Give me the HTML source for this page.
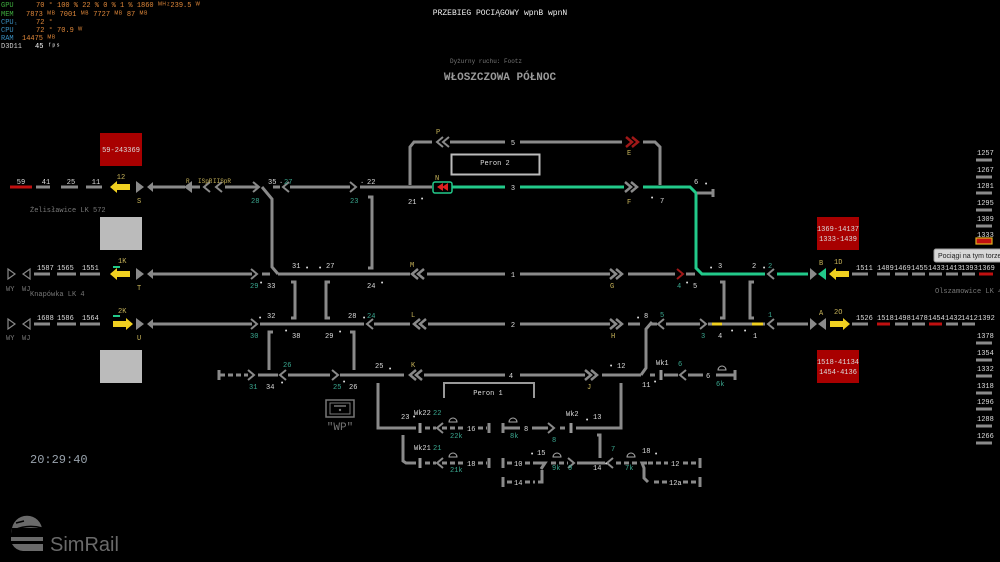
<!DOCTYPE html>
<html><head><meta charset="utf-8"><style>
html,body{margin:0;padding:0;background:#000;width:1000px;height:562px;overflow:hidden}
svg{display:block}
text{font-family:"Liberation Mono",monospace;font-size:7px;fill:#ddd}
.g{fill:#c8b45a}.t{fill:#3aa890}.w{fill:#ddd}.d{fill:#777}
.l{stroke:#8a8a8a;stroke-width:3;fill:none}
.gr{stroke:#22c98a;stroke-width:3;fill:none}
.ds{stroke:#8a8a8a;stroke-width:3;fill:none;stroke-dasharray:5 3}
.ch{stroke:#8a8a8a;stroke-width:2;fill:none}
.tri{fill:#8a8a8a}
</style></head><body>
<svg width="1000" height="562" viewBox="0 0 1000 562" xmlns="http://www.w3.org/2000/svg">
<!-- HUD -->
<g font-size="8">
<text x="1" y="7" style="fill:#3fae3f">GPU</text><text x="36" y="7" style="fill:#e0883a">70 °   100 %   22 %    0 %     1 %  1860 ᴹᴴᶻ239.5 ᵂ</text>
<text x="1" y="16" style="fill:#3fae3f">MEM</text><text x="26" y="16" style="fill:#e0883a">7873 ᴹᴮ  7001 ᴹᴮ 7727 ᴹᴮ   87 ᴹᴮ</text>
<text x="1" y="24" style="fill:#3a8fc0">CPU₁</text><text x="36" y="24" style="fill:#e0883a">72 °</text>
<text x="1" y="32" style="fill:#3a8fc0">CPU</text><text x="36" y="32" style="fill:#e0883a">72 °  70.9 ᵂ</text>
<text x="1" y="40" style="fill:#3a8fc0">RAM</text><text x="22" y="40" style="fill:#e0883a">14475 ᴹᴮ</text>
<text x="1" y="48" style="fill:#ccc">D3D11</text><text x="35" y="48" style="fill:#fff">45 ᶠᵖˢ</text>
</g>
<text x="500" y="15" text-anchor="middle" style="font-size:8px;fill:#eee">PRZEBIEG POCIĄGOWY wpnB wpnN</text>
<text x="486" y="63" text-anchor="middle" style="font-size:6px;fill:#777">Dyżurny ruchu: Footz</text>
<text x="500" y="80" text-anchor="middle" style="font-size:11px;fill:#999;font-weight:bold">WŁOSZCZOWA PÓŁNOC</text>

<!-- boxes -->
<rect x="100" y="133" width="42" height="33" fill="#a80000"/><text x="121" y="152" text-anchor="middle" class="w">59-243369</text>
<rect x="100" y="217" width="42" height="33" fill="#bbb"/>
<rect x="100" y="350" width="42" height="33" fill="#bbb"/>
<rect x="817" y="217" width="42" height="33" fill="#a80000"/><text x="838" y="231" text-anchor="middle" class="w">1369-14137</text><text x="838" y="241" text-anchor="middle" class="w">1333-1439</text>
<rect x="817" y="350" width="42" height="33" fill="#a80000"/><text x="838" y="364" text-anchor="middle" class="w">1518-41134</text><text x="838" y="374" text-anchor="middle" class="w">1454-4136</text>

<!-- Peron boxes -->
<rect x="451.5" y="154.5" width="88" height="20" fill="none" stroke="#bbb" stroke-width="2"/><text x="495" y="165" text-anchor="middle">Peron 2</text>
<path d="M444,398 V383 H534 V398" fill="none" stroke="#999" stroke-width="2"/><text x="488" y="395" text-anchor="middle">Peron 1</text>

<!-- ROW top y=187 -->
<path d="M10,187H32" stroke="#c01010" stroke-width="3"/>
<path class="l" d="M36,187H50M61,187H78M86,187H102"/>
<text x="21" y="184" text-anchor="middle">59</text><text x="46" y="184" text-anchor="middle">41</text><text x="71" y="184" text-anchor="middle">25</text><text x="96" y="184" text-anchor="middle">11</text>
<path d="M110,187l7,-6v3h13v6h-13v3z" fill="#f0d020"/><text x="121" y="179" class="g" text-anchor="middle">12</text>
<path class="tri" d="M136,181l8,6l-8,6z M153,182l-6,5l6,5z"/><text x="137" y="203" class="g">S</text>
<path class="l" d="M153,187H185M192,187H200M225,187H258"/>
<path class="tri" d="M192,181l-8,6l8,6z"/><text x="186" y="183" class="g" style="font-size:6px">R</text>
<path class="ch" d="M210,182l-6,5l6,5M222,182l-6,5l6,5M253,182l6,5l-6,5"/>
<text x="198" y="183" class="g" style="font-size:6px">ISpR</text><text x="213" y="183" class="g" style="font-size:6px">IISpR</text>
<path class="l" d="M262,187L272,199V267L278,274"/>
<path class="l" d="M273,187H280M290,187H350M360,187H432"/>
<path class="ch" d="M289,182l-6,5l6,5M350,182l6,5l-6,5"/>
<text x="268" y="184">35</text><text x="279" y="183">.</text><text x="284" y="184" class="t">27</text><text x="251" y="203" class="t">28</text>
<text x="367" y="184">22</text><text x="360" y="183">.</text><text x="350" y="203" class="t">23</text>
<path class="l" d="M368,197H372V268H368"/>
<text x="408" y="204">21</text><text x="420" y="201">•</text>
<rect x="433" y="182" width="19" height="11" rx="2" fill="none" stroke="#22c98a" stroke-width="1.5"/>
<path d="M437,187l6,-4v8z M442,187l6,-4v8z" fill="#e02020"/><text x="435" y="180" class="g">N</text>
<path class="gr" d="M452,187H505M520,187H624"/><text x="513" y="190" text-anchor="middle">3</text>
<path class="ch" style="stroke-width:2.5" d="M625,182l6,5l-6,5M631,182l6,5l-6,5"/><text x="627" y="204" class="g">F</text><text x="650" y="200">•</text><text x="660" y="203">7</text>
<path class="gr" d="M643,187H690L696,193V268L702,274H765"/>
<path class="l" d="M697,193H713M713,189V197"/><text x="694" y="184">6</text><text x="704" y="186">•</text>

<!-- row P y=142 -->
<path class="l" d="M410,185V147L414,142H432M450,142H505M520,142H622M643,142H655L660,147V185"/>
<path class="ch" d="M443,137l-6,5l6,5M449,137l-6,5l6,5"/><text x="436" y="134" class="g">P</text><text x="513" y="145" text-anchor="middle">5</text>
<path d="M626,137l6,5l-6,5M632,137l6,5l-6,5" fill="none" stroke="#a01818" stroke-width="2.5"/><text x="627" y="155" class="g">E</text>

<!-- ROW 1 y=274 -->
<path d="M8,269l7,5l-7,5z M30,269l-7,5l7,5z" fill="none" stroke="#888" stroke-width="1.2"/>
<text x="6" y="291" class="d">WY</text><text x="22" y="291" class="d">WJ</text>
<path class="l" d="M34,274H50M57,274H76M80,274H100"/>
<text x="37" y="270">1587</text><text x="57" y="270">1565</text><text x="82" y="270">1551</text>
<path d="M110,274l7,-6v3h13v6h-13v3z" fill="#f0d020"/><path d="M113,267h7" stroke="#22c98a" stroke-width="2"/><text x="118" y="263" class="g">1K</text>
<path class="tri" d="M136,268l8,6l-8,6z M153,269l-6,5l6,5z"/><text x="137" y="290" class="g">T</text>
<path class="l" d="M153,274H252M262,274H270M278,274H410"/><path class="ch" d="M251,269l6,5l-6,5"/>
<text x="250" y="288" class="t">29</text><text x="259" y="285">•</text><text x="267" y="288">33</text>
<text x="292" y="268">31</text><text x="305" y="270">•</text><text x="318" y="270">•</text><text x="326" y="268">27</text><text x="367" y="288">24</text><text x="380" y="285">•</text>
<path class="ch" style="stroke-width:2.5" d="M418,269l-6,5l6,5M424,269l-6,5l6,5"/><text x="410" y="267" class="g">M</text>
<path class="l" d="M427,274H505M520,274H610M628,274H675M686,274H695"/><text x="513" y="277" text-anchor="middle">1</text>
<path class="ch" style="stroke-width:2.5" d="M610,269l6,5l-6,5M616,269l6,5l-6,5"/><text x="610" y="288" class="g">G</text>
<path d="M677,269l6,5l-6,5" fill="none" stroke="#a01818" stroke-width="2"/><text x="677" y="288" class="t">4</text><text x="685" y="285">•</text><text x="693" y="288">5</text>
<text x="709" y="270">•</text><text x="718" y="268">3</text><text x="752" y="268">2</text><text x="762" y="270">•</text><text x="768" y="268" class="t">2</text>
<path class="ch" d="M774,269l-6,5l6,5"/><path class="gr" d="M777,274H808"/>
<path class="tri" d="M810,268l7,6l-7,6z"/><path d="M826,268l-8,6l8,6z" fill="#22c98a"/><text x="819" y="265" class="g">B</text>
<path d="M829,274l7,-6v3h13v6h-13v3z" fill="#f0d020"/><text x="834" y="264" class="g">1D</text>
<g class="l"><path d="M852,274H868M877,274H890M895,274H908M912,274H925M929,274H942M946,274H958M962,274H975"/></g>
<path d="M979,274H993" stroke="#c01010" stroke-width="3"/>
<g style="font-size:5.5px"><text x="856" y="270">1511</text><text x="877" y="270">1489</text><text x="894" y="270">1469</text><text x="911" y="270">1455</text><text x="928" y="270">1433</text><text x="945" y="270">1413</text><text x="961" y="270">1393</text><text x="978" y="270">1369</text></g>
<path class="l" d="M720,282H724V318H720M754,282H750V318H754"/>

<!-- ROW 2 y=324 -->
<path d="M8,319l7,5l-7,5z M30,319l-7,5l7,5z" fill="none" stroke="#888" stroke-width="1.2"/>
<text x="6" y="340" class="d">WY</text><text x="22" y="340" class="d">WJ</text>
<path class="l" d="M34,324H50M57,324H76M80,324H100"/>
<text x="37" y="320">1688</text><text x="57" y="320">1586</text><text x="82" y="320">1564</text>
<path d="M113,321h13v-3l7,6l-7,6v-3h-13z" fill="#f0d020"/><path d="M113,316h7" stroke="#22c98a" stroke-width="2"/><text x="118" y="313" class="g">2K</text>
<path class="tri" d="M136,318l8,6l-8,6z M153,319l-6,5l6,5z"/><text x="137" y="340" class="g">U</text>
<path class="l" d="M153,324H252M260,324H364M374,324H410"/><path class="ch" d="M251,319l6,5l-6,5M373,319l-6,5l6,5"/>
<text x="250" y="338" class="t">30</text><text x="258" y="320">•</text><text x="267" y="318">32</text>
<text x="284" y="333">•</text><text x="292" y="338">38</text><text x="325" y="338">29</text><text x="338" y="334">•</text>
<text x="348" y="318">28</text><text x="362" y="320">•</text><text x="367" y="318" class="t">24</text>
<path class="l" d="M291,282H295V318H291M330,282H326V318H330"/>
<path class="l" d="M273,332H269V370M350,332H354V370"/>
<path class="ch" style="stroke-width:2.5" d="M420,319l-6,5l6,5M426,319l-6,5l6,5"/><text x="411" y="317" class="g">L</text>
<path class="l" d="M428,324H505M520,324H610M628,324H640"/><text x="513" y="327" text-anchor="middle">2</text>
<path class="ch" style="stroke-width:2.5" d="M610,319l6,5l-6,5M616,319l6,5l-6,5"/><text x="611" y="338" class="g">H</text>
<text x="636" y="320">•</text><text x="644" y="318">8</text>
<path class="l" d="M652,322L646,329V368L641,375"/>
<path class="l" d="M650,324H657M666,324H700M708,324H765"/><path class="ch" d="M664,319l-6,5l6,5M700,319l6,5l-6,5M774,319l-6,5l6,5"/>
<text x="660" y="317" class="t">5</text><text x="701" y="338" class="t">3</text><text x="718" y="338">4</text><text x="730" y="333">•</text><text x="743" y="333">•</text><text x="753" y="338">1</text><text x="768" y="317" class="t">1</text>
<path d="M712,324H722M752,324H763" stroke="#f0d020" stroke-width="3"/>
<path class="l" d="M777,324H808"/>
<path class="tri" d="M810,318l7,6l-7,6z M826,318l-8,6l8,6z"/><text x="819" y="315" class="g">A</text>
<path d="M830,321h13v-3l7,6l-7,6v-3h-13z" fill="#f0d020"/><text x="834" y="314" class="g">2O</text>
<path class="l" d="M852,324H868M895,324H908M912,324H925M946,324H958M962,324H975"/>
<path d="M877,324H890M929,324H942" stroke="#c01010" stroke-width="3"/>
<g style="font-size:5.5px"><text x="856" y="320">1526</text><text x="877" y="320">1518</text><text x="894" y="320">1498</text><text x="911" y="320">1478</text><text x="928" y="320">1454</text><text x="945" y="320">1432</text><text x="961" y="320">1412</text><text x="978" y="320">1392</text></g>

<!-- right stack -->
<g style="font-size:5.5px">
<text x="977" y="155">1257</text><text x="977" y="172">1267</text><text x="977" y="188">1281</text><text x="977" y="205">1295</text><text x="977" y="221">1309</text><text x="977" y="237">1333</text>
<text x="977" y="338">1378</text><text x="977" y="355">1354</text><text x="977" y="371">1332</text><text x="977" y="388">1318</text><text x="977" y="404">1296</text><text x="977" y="421">1288</text><text x="977" y="438">1266</text>
</g>
<path class="l" d="M976,160H992M976,177H992M976,193H992M976,210H992M976,226H992M976,343H992M976,360H992M976,376H992M976,393H992M976,409H992M976,426H992M976,443H992"/>
<rect x="976" y="238" width="16" height="6" fill="#c01010" stroke="#e0b020" stroke-width="1.2"/>
<rect x="934" y="249" width="70" height="13" rx="2" fill="#d8d8d8" stroke="#999"/><text x="938" y="258" style="font-family:'Liberation Sans',sans-serif;fill:#222;font-size:7px">Pociągi na tym torze</text>

<!-- ROW 4 y=375 -->
<path class="ds" d="M220,375H248"/><path class="l" d="M219,370V380"/><path class="ch" d="M248,370l6,5l-6,5M286,370l-6,5l6,5M332,370l6,5l-6,5"/>
<path class="l" d="M258,375H278M288,375H330M340,375H404"/>
<text x="249" y="389" class="t">31</text><text x="266" y="389">34</text><text x="280" y="385">•</text><text x="283" y="367" class="t">26</text>
<text x="333" y="389" class="t">25</text><text x="342" y="384">•</text><text x="349" y="389">26</text>
<text x="375" y="368">25</text><text x="388" y="371">•</text><text x="411" y="367" class="g">K</text>
<path class="ch" style="stroke-width:2.5" d="M416,370l-6,5l6,5M422,370l-6,5l6,5"/>
<path class="l" d="M424,375H505M520,375H585M602,375H641M650,375H655M664,375H678M688,375H703M716,375H735M735,370V380"/>
<text x="511" y="378" text-anchor="middle">4</text>
<path class="ch" style="stroke-width:2.5" d="M585,370l6,5l-6,5M591,370l6,5l-6,5"/><text x="587" y="389" class="g">J</text>
<text x="609" y="368">•</text><text x="617" y="368">12</text>
<path d="M661,370v10" stroke="#999" stroke-width="3"/><text x="656" y="365">Wk1</text><text x="678" y="366" class="t">6</text>
<path class="ch" d="M686,370l-6,5l6,5"/><text x="706" y="378">6</text><text x="716" y="386" class="t">6k</text>
<path d="M718,370a4,4 0 0 1 8,0z" fill="none" stroke="#aaa" stroke-width="1"/>
<text x="642" y="387">11</text><text x="653" y="384">•</text>

<!-- lower yard -->
<path class="l" d="M378,383V428H416"/><path d="M420,423v10M420,458v10M571,423v10" stroke="#999" stroke-width="3"/>
<path class="ds" d="M425,428H436M442,428H466M478,428H487"/><path class="l" d="M489,423V433"/><path class="ch" d="M443,423l-6,5l6,5"/>
<text x="401" y="419">23</text><text x="412" y="419">•</text><text x="414" y="415">Wk22</text><text x="433" y="415" class="t">22</text><text x="450" y="438" class="t">22k</text><text x="467" y="431">16</text>
<path d="M449,422a4,4 0 0 1 8,0z M509,422a4,4 0 0 1 8,0z M449,457a4,4 0 0 1 8,0z M553,457a4,4 0 0 1 8,0z M627,457a4,4 0 0 1 8,0z" fill="none" stroke="#aaa" stroke-width="1"/>
<path class="l" d="M403,435V461L406,463H416"/>
<path class="ds" d="M425,463H436M442,463H466M478,463H487"/><path class="l" d="M489,458V468"/><path class="ch" d="M443,458l-6,5l6,5"/>
<text x="414" y="450">Wk21</text><text x="433" y="450" class="t">21</text><text x="450" y="472" class="t">21k</text><text x="467" y="466">18</text>
<path class="l" d="M503,423V433M503,428H520M532,428H548M576,428H621V383"/><path class="ds" d="M560,428H568"/>
<path class="ch" d="M548,423l6,5l-6,5"/><text x="524" y="431">8</text><text x="510" y="438" class="t">8k</text><text x="552" y="442" class="t">8</text><text x="566" y="416">Wk2</text><text x="585" y="422">•</text><text x="593" y="419">13</text>
<path class="l" d="M503,458V468M503,477V487"/><path class="ds" d="M507,463H514M525,463H539M507,482H514M525,482H535"/>
<text x="514" y="466">10</text><text x="514" y="485">14</text><text x="530" y="456">•</text><text x="537" y="455">15</text>
<path class="l" d="M538,463H545L541,469M538,482H542V470"/>
<path class="ds" d="M551,463H568"/><path class="ch" d="M568,458l6,5l-6,5M613,458l-6,5l6,5"/>
<path class="l" d="M577,463H605M597,435H600V458"/><text x="552" y="470" class="t">9k</text><text x="568" y="470" class="t">9</text>
<text x="593" y="470">14</text><text x="604" y="466">•</text><text x="611" y="451" class="t">7</text><text x="625" y="470" class="t">7k</text><text x="642" y="453">18</text><text x="654" y="456">•</text>
<path class="ds" d="M616,463H640M648,463H668M683,463H697M654,482H668M683,482H697"/>
<path class="l" d="M700,458V468M700,477V487M647,463H642L644,468V478L648,482"/>
<text x="671" y="466">12</text><text x="669" y="485">12a</text>

<!-- WP -->
<rect x="326" y="400" width="28" height="17" fill="none" stroke="#777" stroke-width="1.5"/><rect x="330" y="403" width="20" height="11" fill="none" stroke="#777" stroke-width="1"/>
<path d="M334,406H346" stroke="#777" stroke-width="1.5"/><circle cx="340" cy="410" r="1.2" fill="#777"/>
<text x="340" y="430" text-anchor="middle" style="font-size:11px;fill:#777">"WP"</text>

<!-- labels -->
<text x="30" y="212" class="d">Żelisławice LK 572</text>
<text x="30" y="296" class="d">Knapówka LK 4</text>
<text x="935" y="293" class="d">Olszamowice LK 4</text>

<text x="30" y="463" style="font-size:12px;fill:#99a3ad">20:29:40</text>
<!-- SimRail logo -->
<g fill="#6a6a6a">
<path d="M12,534 a15,15 0 0 1 30,-6 h-30z"/>
<path d="M11,537 h32 v4 h-32z M12,544 h31 v7 h-20 a14,14 0 0 1 -11,-7z"/>
</g>
<path d="M16,523 l8,-2 M14,530 q14,-6 28,-2" stroke="#000" stroke-width="1.5" fill="none"/>
<text x="50" y="551" style="font-family:'Liberation Sans',sans-serif;font-size:20px;fill:#6a6a6a">SimRail</text>
</svg>
</body></html>
